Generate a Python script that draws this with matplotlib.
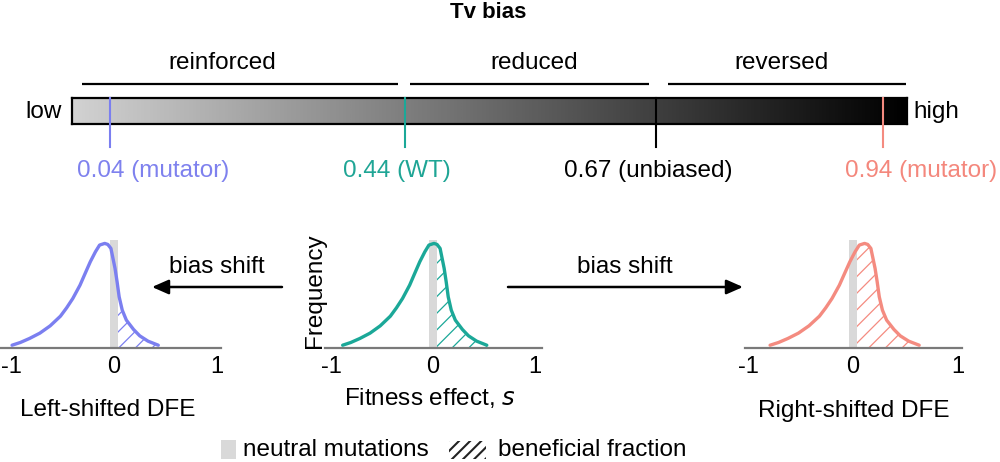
import numpy as np
import matplotlib
matplotlib.use("Agg")
import matplotlib.pyplot as plt
from matplotlib.colors import LinearSegmentedColormap
from matplotlib.patches import Rectangle

plt.rcParams['font.family'] = ['Liberation Sans', 'DejaVu Sans']
plt.rcParams['hatch.linewidth'] = 0.9

# ---------------- data ----------------
title = "Tv bias"
regions = ["reinforced", "reduced", "reversed"]
bias_values = [0.04, 0.44, 0.67, 0.94]
bias_notes = ["mutator", "WT", "unbiased", "mutator"]
panel_titles = ["Left-shifted DFE", "", "Right-shifted DFE"]
s_ticks = [-1, 0, 1]
s_ticklabels = ["-1", "0", "1"]
neutral_band = [-0.035, 0.035]
neutral_height = 1.03

freq = [0.022, 0.048, 0.087, 0.138, 0.208, 0.301, 0.381, 0.471, 0.599, 0.712, 0.824,
        0.920, 0.984, 1.000, 0.990, 0.952, 0.856, 0.760, 0.631, 0.487, 0.359, 0.263,
        0.173, 0.112, 0.061, 0.022]
left_s = [-0.99, -0.91, -0.82, -0.72, -0.62, -0.52, -0.46, -0.40, -0.33, -0.28, -0.23,
          -0.18, -0.14, -0.09, -0.06, -0.03, -0.01, 0.01, 0.03, 0.05, 0.08, 0.12,
          0.19, 0.25, 0.33, 0.43]
left_f = freq
wt_s = [-0.89, -0.81, -0.72, -0.62, -0.52, -0.42, -0.36, -0.30, -0.23, -0.18, -0.13,
        -0.08, -0.04, 0.01, 0.04, 0.07, 0.09, 0.11, 0.13, 0.15, 0.18, 0.22,
        0.29, 0.35, 0.43, 0.53]
wt_f = freq
right_s = [-0.79, -0.71, -0.62, -0.52, -0.42, -0.32, -0.26, -0.20, -0.13, -0.08, -0.03,
           0.02, 0.06, 0.11, 0.14, 0.17, 0.19, 0.21, 0.23, 0.25, 0.28, 0.32,
           0.39, 0.45, 0.53, 0.63]
right_f = freq

# ---------------- styles / layout ----------------
W, H = 1000, 462
FS = 17.5
BLUE, TEAL, SALMON = '#7b7ff0', '#1ba898', '#f48b80'
marker_colors = [BLUE, TEAL, 'black', SALMON]
marker_text_colors = ['#7e81ee', '#1fa595', 'black', '#f4877c']
marker_pos = [0.0455, 0.399, 0.700, 0.971]          # fraction along bar
marker_label_x = [153, 397, 648, 921]                 # pixel centres
bracket_px = [(82, 398), (410, 649), (668, 906)]
region_label_x = [222, 534, 781]

fig = plt.figure(figsize=(W / 100, H / 100), dpi=100)


def px_axes(x0, y0, x1, y1, **kw):
    return fig.add_axes([x0 / W, 1 - y1 / H, (x1 - x0) / W, (y1 - y0) / H], **kw)


ov = px_axes(0, 0, W, H)
ov.set_xlim(0, W)
ov.set_ylim(H, 0)
ov.axis('off')
ov.set_zorder(0)

# title
ov.text(488, 12, title, ha='center', va='center', fontsize=16, fontweight='bold')

# region brackets
for name, (a, b), cx in zip(regions, bracket_px, region_label_x):
    ov.plot([a, b], [84, 84], color='black', lw=1.6, solid_capstyle='butt')
    ov.text(cx, 63, name, ha='center', va='center', fontsize=FS)

ov.text(62, 112, "low", ha='right', va='center', fontsize=FS)
ov.text(913, 112, "high", ha='left', va='center', fontsize=FS)

# gradient bar
bar = px_axes(72, 98, 907, 124)
cmap = LinearSegmentedColormap.from_list('g', ['#d2d2d2', '#000000'])
bar.imshow(np.linspace(0, 1, 512).reshape(1, -1), cmap=cmap, aspect='auto',
           extent=[0, 1, 0, 1], interpolation='bilinear')
bar.set_xlim(0, 1)
bar.set_ylim(0, 1)
bar.set_xticks([])
bar.set_yticks([])
for sp in bar.spines.values():
    sp.set_linewidth(1.6)
    sp.set_color('black')
for v, note, p, c, tc, lx in zip(bias_values, bias_notes, marker_pos, marker_colors,
                                 marker_text_colors, marker_label_x):
    bar.plot([p, p], [1, -0.9], color=c, lw=1.5, clip_on=False, zorder=3)
    ov.text(lx, 171, f"{v:.2f} ({note})", ha='center', va='center', fontsize=FS, color=tc)

# DFE panels
panels = [
    (left_s, left_f, BLUE, (0, 221), (-1.107, 1.039)),
    (wt_s, wt_f, TEAL, (325, 542), (-1.064, 1.074)),
    (right_s, right_f, SALMON, (745, 962), (-1.029, 1.038)),
]
axes = []
for (s, f, col, (x0, x1), xl), ptitle in zip(panels, panel_titles):
    ax = px_axes(x0, 233, x1, 347.5)
    ax.patch.set_alpha(0)
    ax.set_xlim(*xl)
    ax.set_ylim(0, 1.10)
    for k in ['top', 'right', 'left']:
        ax.spines[k].set_visible(False)
    ax.spines['bottom'].set_color('#7a7a7a')
    ax.spines['bottom'].set_linewidth(1.6)
    ax.set_yticks([])
    ax.set_xticks(s_ticks)
    ax.set_xticklabels(s_ticklabels)
    ax.tick_params(axis='x', length=0, pad=6, labelsize=17)
    ax.add_patch(Rectangle((neutral_band[0], 0), neutral_band[1] - neutral_band[0],
                           neutral_height, facecolor='#d9d9d9', edgecolor='none', zorder=2,
                           clip_on=False))
    poly = ax.fill_between(s, f, 0, facecolor='none', edgecolor=col, hatch='//',
                           linewidth=0, zorder=1)
    clip = Rectangle((neutral_band[1], 0), 3, 3, transform=ax.transData)
    poly.set_clip_path(clip)
    ax.plot(s, f, color=col, lw=2.4, zorder=3, solid_capstyle='round',
            solid_joinstyle='round', clip_on=False)
    axes.append(ax)

ov.text(108, 410, panel_titles[0], ha='center', va='center', fontsize=FS)
ov.text(854, 411, panel_titles[2], ha='center', va='center', fontsize=FS)
ov.text(315, 291, "Frequency", ha='center', va='center', fontsize=FS, rotation=90)
ov.text(430, 398, "Fitness effect, $\\mathit{s}$", ha='center', va='center', fontsize=FS)

# arrows
ap = dict(arrowstyle='-|>,head_length=0.5,head_width=0.22', color='black', lw=1.8,
          mutation_scale=20, shrinkA=0, shrinkB=0)
ov.annotate('', xy=(152, 287), xytext=(282, 287), arrowprops=ap)
ov.annotate('', xy=(743, 287), xytext=(508, 287), arrowprops=ap)
ov.text(217, 267, "bias shift", ha='center', va='center', fontsize=FS)
ov.text(625, 267, "bias shift", ha='center', va='center', fontsize=FS)

# legend
ov.add_patch(Rectangle((221, 440), 15, 19, facecolor='#d9d9d9', edgecolor='none'))
ov.text(243, 450, "neutral mutations", ha='left', va='center', fontsize=FS)
with plt.rc_context({'hatch.linewidth': 1.5}):
    ov.add_patch(Rectangle((449, 441), 37, 18, facecolor='none', edgecolor='#222222',
                           linewidth=0, hatch='///'))
ov.text(498, 450, "beneficial fraction", ha='left', va='center', fontsize=FS)

fig.savefig('out.png', dpi=100)
